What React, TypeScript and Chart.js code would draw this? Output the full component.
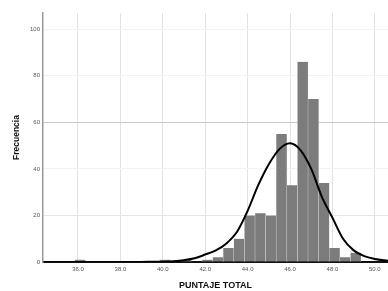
import { useEffect, useRef } from 'react';
import { Chart, registerables } from 'chart.js';

Chart.register(...registerables);

// Histogram bins (bin centres) and their frequencies
const binCenters = [36.1, 40.1, 41.1, 42.1, 42.6, 43.1, 43.6, 44.1, 44.6, 45.1, 45.6, 46.1, 46.6, 47.1, 47.6, 48.1, 48.6, 49.1];
const frequencies = [1, 1, 1, 1, 2, 6, 10, 20, 21, 20, 55, 33, 86, 70, 34, 6, 2, 4];

// Normal curve points
const curveX = [34.4, 36, 38, 39, 40, 40.5, 41, 41.5, 42, 42.5, 43, 43.5, 44, 44.5, 45, 45.5, 46, 46.5, 47, 47.5, 48, 48.5, 49, 49.5, 50, 50.62];
const curveY = [0, 0, 0, 0.05, 0.15, 0.35, 0.8, 1.6, 3.2, 5, 8, 13, 22, 33, 42, 48.5, 51, 48, 40, 28, 19, 10, 5, 2.5, 1.3, 0.5];

// Axis ticks
const xTicks = [36, 38, 40, 42, 44, 46, 48, 50];
const yTicks = [0, 20, 40, 60, 80, 100];

const FONT = 'Liberation Sans, Arial, sans-serif';

export default function App() {
  const ref = useRef<HTMLCanvasElement>(null);

  useEffect(() => {
    document.body.style.margin = '0';
    const chart = new Chart(ref.current!, {
      type: 'bar',
      data: {
        datasets: [
          {
            type: 'line',
            data: curveX.map((x, i) => ({ x, y: curveY[i] })),
            borderColor: '#000',
            borderWidth: 2,
            pointRadius: 0,
            cubicInterpolationMode: 'monotone',
            fill: false,
            order: 0,
          } as any,
          {
            type: 'bar',
            data: binCenters.map((x, i) => ({ x, y: frequencies[i] })),
            backgroundColor: '#7c7c7c',
            borderColor: '#d6d6d6',
            borderWidth: { left: 0.5, right: 0.5, top: 0, bottom: 0 },
            borderSkipped: false,
            categoryPercentage: 1,
            barPercentage: 1,
            order: 1,
          } as any,
        ],
      },
      options: {
        animation: false,
        responsive: true,
        maintainAspectRatio: false,
        layout: { padding: { top: 13, left: 0, right: 0, bottom: 0 } },
        plugins: { legend: { display: false }, tooltip: { enabled: false } },
        scales: {
          x: {
            type: 'linear',
            offset: false,
            min: 34.35,
            max: 50.62,
            afterBuildTicks: (s: any) => {
              s.ticks = xTicks.map((v) => ({ value: v }));
            },
            afterFit: (s: any) => {
              s.height = 29;
            },
            ticks: {
              callback: (v: any) => Number(v).toFixed(1),
              font: { family: FONT, size: 6 },
              color: '#555',
              padding: 4,
              maxRotation: 0,
              autoSkip: false,
            },
            grid: { color: '#e2e2e2', drawTicks: false, lineWidth: 1, offset: false },
            border: { color: '#111', width: 2 },
            title: {
              display: true,
              text: 'PUNTAJE TOTAL',
              font: { family: FONT, size: 9, weight: 'bold' },
              color: '#111',
              padding: { top: 4, bottom: 0 },
            },
          },
          y: {
            type: 'linear',
            min: 0,
            max: 107,
            afterBuildTicks: (s: any) => {
              s.ticks = yTicks.map((v) => ({ value: v }));
            },
            afterFit: (s: any) => {
              s.width = 43;
            },
            ticks: {
              font: { family: FONT, size: 6 },
              color: '#555',
              padding: 3,
            },
            grid: {
              drawTicks: false,
              color: (ctx: any) => {
                const v = ctx.tick && ctx.tick.value;
                if (v === 60) return '#c9c9c9';
                if (v === 20) return '#e6e6e6';
                return '#f2f2f2';
              },
            },
            border: { color: '#9a9a9a', width: 1.5 },
            title: {
              display: true,
              text: 'Frecuencia',
              font: { family: FONT, size: 8.5, weight: 'bold' },
              color: '#111',
              padding: { top: 12, bottom: 0 },
            },
          },
        },
      },
    });
    return () => chart.destroy();
  }, []);

  return (
    <div style={{ position: 'relative', width: 388, height: 291 }}>
      <canvas ref={ref} />
    </div>
  );
}
